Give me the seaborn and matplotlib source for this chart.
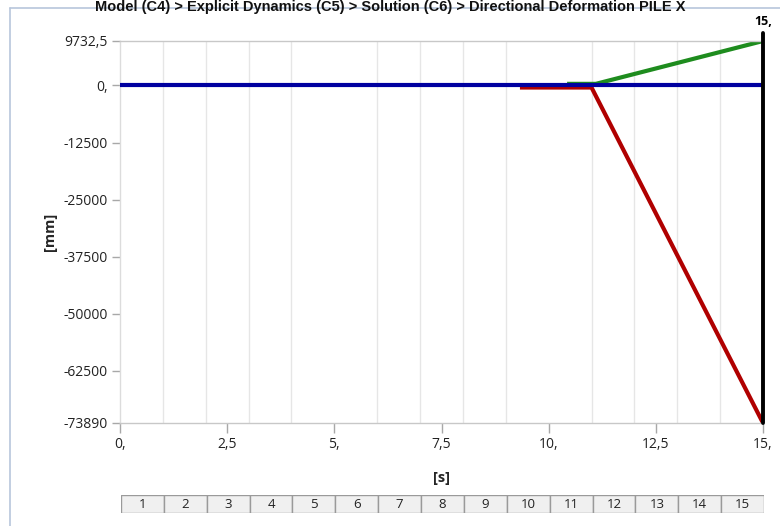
import numpy as np
import pandas as pd
import matplotlib
matplotlib.use("Agg")
import matplotlib.pyplot as plt
import seaborn as sns
from matplotlib.lines import Line2D

# ---- data ----
title = "Model (C4) > Explicit Dynamics (C5) > Solution (C6) > Directional Deformation PILE X"
blue_t = [0.0, 15.0]
blue_v = [0.0, 0.0]
red_t = [9.33, 11.0, 15.0]
red_v = [-450.0, -450.0, -73890.0]
green_t = [10.43, 11.1, 15.0]
green_v = [350.0, 350.0, 9732.5]
cursor_t = 15.0
y_ticks = [9732.5, 0, -12500, -25000, -37500, -50000, -62500, -73890]
y_ticklabels = ["9732,5", "0,", "-12500", "-25000", "-37500", "-50000", "-62500", "-73890"]
x_ticks = [0, 2.5, 5, 7.5, 10, 12.5, 15]
x_ticklabels = ["0,", "2,5", "5,", "7,5", "10,", "12,5", "15,"]
steps = list(range(1, 16))

df = pd.concat([
    pd.DataFrame({"t": red_t, "v": red_v, "s": "red"}),
    pd.DataFrame({"t": green_t, "v": green_v, "s": "green"}),
    pd.DataFrame({"t": blue_t, "v": blue_v, "s": "blue"}),
], ignore_index=True)

sns.set_theme(style="white")
plt.rcParams['font.family'] = ['Open Sans', 'DejaVu Sans']

W, H = 780, 526
fig = plt.figure(figsize=(W / 100, H / 100), dpi=100)

ax = fig.add_axes([120 / W, 1 - 423 / H, 643 / W, 382 / H])
palette = {"red": "#b00000", "green": "#1e8c1e", "blue": "#0000a0"}
sns.lineplot(data=df, x="t", y="v", hue="s", palette=palette, estimator=None,
             sort=False, linewidth=3.0, legend=False, ax=ax)
for ln in ax.lines:
    ln.set_solid_capstyle("butt")
ax.lines[-1].set_zorder(4)

ax.axvline(cursor_t, ymin=0, ymax=1.022, color="black", linewidth=2.8, clip_on=False, zorder=6)
ax.text(cursor_t, 1.05, "15,", transform=ax.get_xaxis_transform(), ha="center", va="center",
        fontsize=9, fontweight="bold", color="black")

ax.set_xlim(0, 15)
ax.set_ylim(-73890, 9732.5)
ax.set_xticks(x_ticks)
ax.set_xticklabels(x_ticklabels)
ax.set_yticks(y_ticks)
ax.set_yticklabels(y_ticklabels)
ax.xaxis.set_minor_locator(matplotlib.ticker.MultipleLocator(1))
ax.grid(False)
ax.grid(True, axis="x", which="minor", color="#e6e6e6", linewidth=1.0)
ax.tick_params(axis="x", which="major", direction="out", length=7, width=1,
               color="#a8a8a8", labelsize=10, labelcolor="#222222", pad=3, bottom=True)
ax.tick_params(axis="y", which="major", direction="out", length=6, width=1,
               color="#a8a8a8", labelsize=10, labelcolor="#222222", pad=3, left=True)
ax.tick_params(axis="x", which="minor", length=0)
for side in ["top", "bottom"]:
    ax.spines[side].set_color("#c8c8c8")
    ax.spines[side].set_linewidth(1)
ax.spines["left"].set_color("#dcdcdc")
ax.spines["left"].set_linewidth(1)
ax.spines["right"].set_visible(False)
ax.set_xlabel("[s]", fontsize=10.5, fontweight="bold", va="center")
ax.xaxis.set_label_coords(0.5, -(478 - 423) / 382)
ax.set_ylabel("[mm]", fontsize=10.5, fontweight="bold")
ax.yaxis.set_label_coords((57 - 120) / 643, 0.5)

# step table
ax2 = fig.add_axes([121 / W, 1 - 513 / H, 643 / W, 18 / H])
ax2.bar([s - 0.5 for s in steps], [1] * len(steps), width=1.0, bottom=0,
        color="#f0f0f0", edgecolor="#9a9a9a", linewidth=1.0)
for s in steps:
    ax2.text(s - 0.5, 0.5, str(s), ha="center", va="center", fontsize=9.5, color="#222222")
ax2.set_xlim(0, 15)
ax2.set_ylim(0, 1)
ax2.axis("off")

# frame and title
fig.add_artist(Line2D([10 / W, 10 / W], [0, 1 - 8 / H], color="#b8c6dc", linewidth=1.2))
fig.add_artist(Line2D([10 / W, 1], [1 - 8 / H, 1 - 8 / H], color="#b8c6dc", linewidth=1.2))
fig.text(0.5, 1 - 0.5 / H, title, ha="center", va="top", fontsize=10.5, fontweight="bold",
         family=["Liberation Sans", "DejaVu Sans"], color="#111111")

fig.savefig("out.png", dpi=100, facecolor="white")
